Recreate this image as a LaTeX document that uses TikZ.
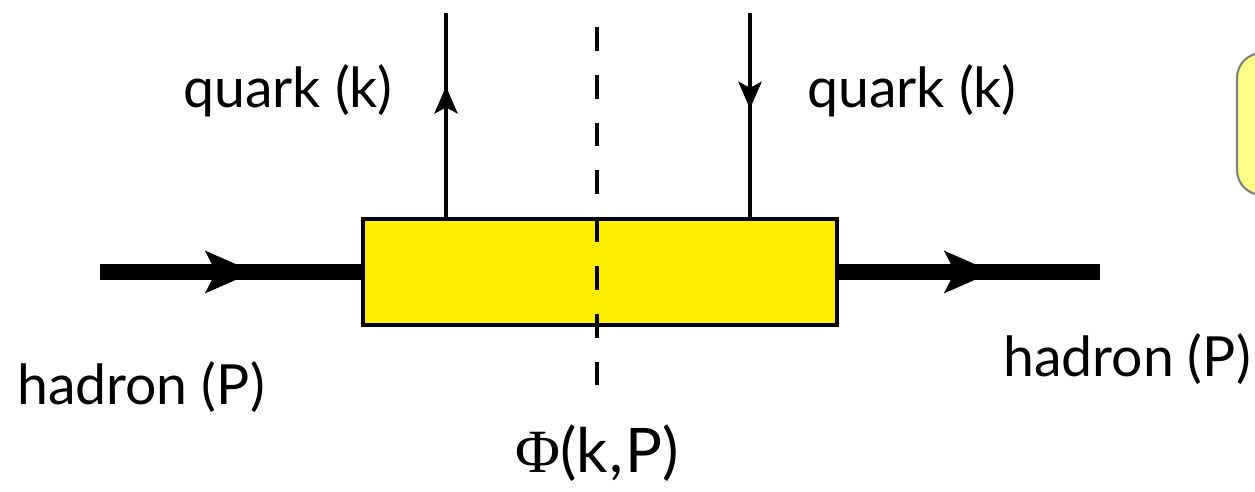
\documentclass[tikz,border=0pt]{standalone}
\usepackage{fontspec}
\setmainfont{Lato}
\newfontfamily\phifont{Liberation Serif}
\usetikzlibrary{arrows.meta,decorations.markings}

\definecolor{blobyellow}{HTML}{FFEE00}
\definecolor{notefill}{HTML}{FFFF88}

\tikzset{
  hadron/.style={line width=9.5pt},
  quark/.style={line width=2.5pt},
  blob/.style={draw,fill=blobyellow,line width=2.3pt,inner sep=0pt,
    minimum width=9.48cm,minimum height=2.12cm},
  lbl/.style={anchor=base,font=\fontsize{31.5}{36}\selectfont},
  midarr/.style 2 args={postaction={decorate},decoration={markings,
    mark=at position #1 with {\arrow{#2}}}}
}

\begin{document}
\begin{tikzpicture}[x=0.02cm,y=-0.02cm]
\useasboundingbox (0,0) rectangle (1255,492);
% cut-off note on the right
\draw[gray,line width=1.2pt,fill=notefill,rounded corners=0.5cm] (1237,53) rectangle (1300,195);
\node[blob] (phi) at (600,272) {};
\coordinate (hin) at (100,272);
\coordinate (hout) at (1100,272);
\coordinate (qtopl) at (446,13);
\coordinate (qtopr) at (750,13);
\coordinate (cuttop) at (597,27);
\coordinate (cutbot) at (597,387);
\draw[hadron,midarr={0.59}{Stealth[length=0.96cm,width=0.82cm,inset=0.2cm]}] (hin) -- (phi.west);
\draw[hadron,midarr={0.59}{Stealth[length=0.96cm,width=0.82cm,inset=0.2cm]}] (phi.east) -- (hout);
\draw[quark,midarr={0.64}{Stealth[length=0.54cm,width=0.46cm,inset=0.12cm]}] (phi.north west -| qtopl) -- (qtopl);
\draw[quark,midarr={0.47}{Stealth[length=0.54cm,width=0.46cm,inset=0.12cm]}] (qtopr) -- (phi.north west -| qtopr);
\draw[line width=1.9pt,dash pattern=on 13.6pt off 13.6pt] (cuttop) -- (cutbot);
\node[lbl] (ql) at (288,108) {quark (k)};
\node[lbl] (qr) at (912,108) {quark (k)};
\node[lbl] (hl) at (141,405) {hadron (P)};
\node[lbl] (hr) at (1127,377) {hadron (P)};
\node[lbl,font=\fontsize{35}{40}\selectfont] (phil) at (597,473) {{\phifont Φ}(k\kern1pt,\kern1pt P)};
\end{tikzpicture}
\end{document}
